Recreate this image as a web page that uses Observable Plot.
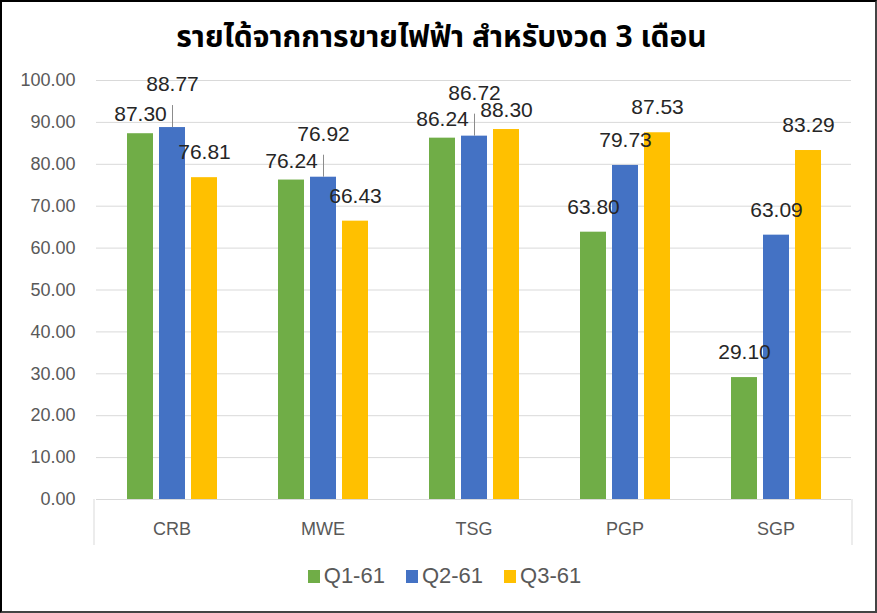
<!DOCTYPE html>
<html>
<head>
<meta charset="utf-8">
<script src="https://cdn.jsdelivr.net/npm/d3@7"></script>
<script src="https://cdn.jsdelivr.net/npm/@observablehq/plot@0.6"></script>
<style>
  html, body { margin: 0; padding: 0; background: #fff; }
  #wrap { position: relative; width: 877px; height: 613px; overflow: hidden; background: #fff; }
  #border { position: absolute; left: 0; top: 0; width: 877px; height: 613px; box-sizing: border-box;
            border-left: 2px solid #000; border-top: 2px solid #000; border-right: 2px solid #444; border-bottom: 2px solid #444; pointer-events: none; }
  #title { position: absolute; left: 0; top: 18px; width: 883px; text-align: center;
           font-family: "Noto Sans Thai", "Tahoma", "Leelawadee UI", "DejaVu Sans", sans-serif; font-weight: bold; font-size: 30px; color: #000; line-height: 40px; }
  #chart { position: absolute; left: 0; top: 0; }
  #legend { position: absolute; left: 6px; top: 563px; width: 877px; display: flex; justify-content: center; gap: 21px;
            font-family: "Liberation Sans", Arial, sans-serif; font-size: 22px; color: #595959; }
  .item { display: flex; align-items: center; gap: 4px; }
  .sw { width: 12px; height: 13px; display: inline-block; }
</style>
</head>
<body>
<div id="wrap">
  <div id="chart"></div>
  <div id="title">รายได้จากการขายไฟฟ้า สำหรับงวด 3 เดือน</div>
  <div id="legend"></div>
  <div id="border"></div>
</div>
<script>
const categories = ["CRB", "MWE", "TSG", "PGP", "SGP"];
const seriesNames = ["Q1-61", "Q2-61", "Q3-61"];
const seriesColors = ["#70AD47", "#4472C4", "#FFC000"];
const q1 = [87.30, 76.24, 86.24, 63.80, 29.10];
const q2 = [88.77, 76.92, 86.72, 79.73, 63.09];
const q3 = [76.81, 66.43, 88.30, 87.53, 83.29];
const yTicks = [0, 10, 20, 30, 40, 50, 60, 70, 80, 90, 100];

const W = 877, H = 560, mL = 94, mR = 25, mT = 80, mB = 61;
const pxPerUnit = (H - mT - mB) / 100;
const leaderUnits = 22 / pxPerUnit;

const seriesValues = [q1, q2, q3];
const rows = [];
categories.forEach((c, i) => {
  const vals = seriesValues.map(v => v[i]);
  // Excel moves the middle label up (with a leader line) when it collides with the first label
  const liftMiddle = Math.abs(vals[1] - vals[0]) < 3;
  seriesValues.forEach((v, s) => {
    const lifted = s === 1 && liftMiddle;
    const crowded = !lifted && liftMiddle && Math.abs(v[i] - vals[1]) < 3;
    rows.push({cat: c, series: seriesNames[s], value: v[i], lifted, crowded});
  });
});

const fmt = d3.format(".2f");
const labelStyle = {fx: "cat", x: "series", y: "value", text: d => fmt(d.value), fontSize: 21, fill: "#262626"};
const plot = Plot.plot({
  width: W, height: H, marginLeft: mL, marginRight: mR, marginTop: mT, marginBottom: mB,
  style: {fontFamily: "Liberation Sans, Arial, sans-serif", background: "transparent", overflow: "visible"},
  fx: {domain: categories, padding: 0, label: null},
  x: {domain: seriesNames, paddingInner: 0.2, paddingOuter: 0.9, axis: null},
  y: {domain: [0, 100], label: null},
  color: {domain: seriesNames, range: seriesColors},
  marks: [
    Plot.gridY(yTicks, {stroke: "#d9d9d9", strokeOpacity: 1, strokeWidth: 1}),
    Plot.axisY(yTicks, {tickFormat: fmt, tickSize: 0, tickPadding: 21, fontSize: 18, label: null}),
    Plot.axisFx({anchor: "bottom", tickSize: 0, tickPadding: 23, fontSize: 18, label: null}),
    Plot.barY(rows, {fx: "cat", x: "series", y: "value", fill: "series"}),
    Plot.ruleX(rows.filter(d => d.lifted), {fx: "cat", x: "series", y1: "value", y2: d => d.value + leaderUnits, stroke: "#8c8c8c", strokeWidth: 1}),
    Plot.text(rows.filter(d => !d.lifted && !d.crowded), {...labelStyle, dy: -25}),
    Plot.text(rows.filter(d => d.crowded), {...labelStyle, dy: -19}),
    Plot.text(rows.filter(d => d.lifted), {...labelStyle, dy: -43})
  ]
});

// axis text colours
d3.select(plot).selectAll('g[aria-label="y-axis tick label"], g[aria-label="fx-axis tick label"]').attr("fill", "#595959");
d3.select(plot).selectAll('g[aria-label="y-axis tick label"] text, g[aria-label="fx-axis tick label"] text').attr("fill", "#595959");

// category axis end lines (from the scales)
const fxR = plot.scale("fx").range;
const y0 = plot.scale("y").apply(0);
const svg = d3.select(plot);
[fxR[0], fxR[1]].forEach(x => {
  svg.append("line").attr("x1", x).attr("x2", x).attr("y1", y0).attr("y2", y0 + 46)
    .attr("stroke", "#d9d9d9").attr("stroke-width", 1);
});

document.getElementById("chart").appendChild(plot);

const legend = d3.select("#legend");
seriesNames.forEach((s, i) => {
  const it = legend.append("div").attr("class", "item");
  it.append("span").attr("class", "sw").style("background", seriesColors[i]);
  it.append("span").text(s);
});
</script>
</body>
</html>
